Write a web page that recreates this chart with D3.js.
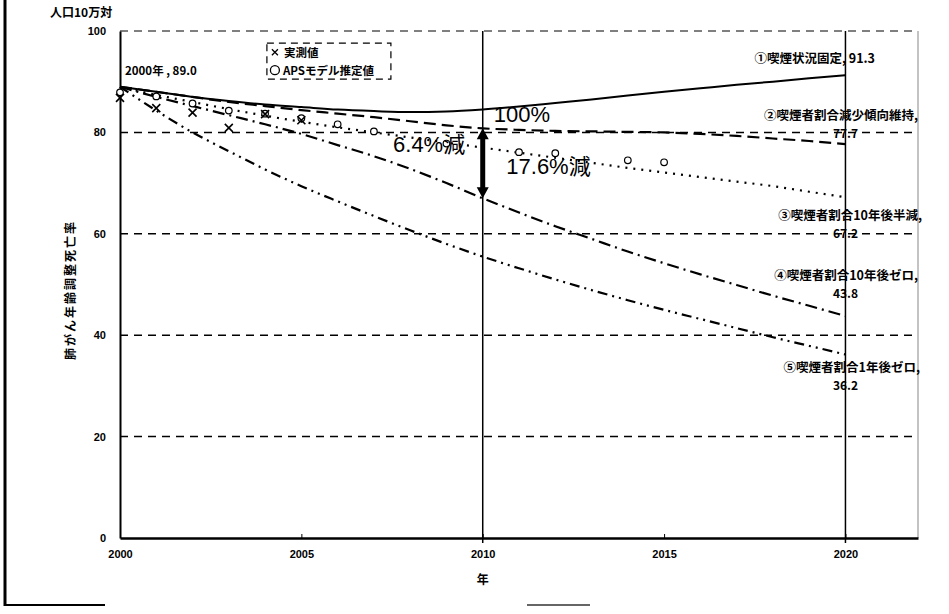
<!DOCTYPE html>
<html>
<head>
<meta charset="utf-8">
<script src="https://cdnjs.cloudflare.com/ajax/libs/d3/7.8.5/d3.min.js"></script>
<style>
  body { margin: 0; background: #fff; }
  text { font-family: "Noto Sans CJK JP", "Liberation Sans", sans-serif; fill: #000; }
  .tick text { font-family: "Liberation Sans", sans-serif; font-weight: bold; font-size: 11px; }
</style>
</head>
<body>
<div id="wrapper"></div>
<script>
// years and series (rate per 100,000)
const years = [2000, 2001, 2002, 2003, 2004, 2005, 2006, 2007, 2008, 2009, 2010,
  2011, 2012, 2013, 2014, 2015, 2016, 2017, 2018, 2019, 2020]
const fixedRate = [89.0, 88.0, 87.0, 86.2, 85.5, 85.0, 84.5, 84.2, 84.0, 84.1, 84.5,
  85.1, 85.8, 86.5, 87.3, 88.0, 88.7, 89.4, 90.0, 90.7, 91.3]
const trendKept = [89.0, 88.0, 87.0, 86.0, 85.2, 84.4, 83.7, 83.0, 82.2, 81.4, 80.8,
  80.5, 80.3, 80.2, 80.1, 80.0, 79.7, 79.3, 78.8, 78.3, 77.7]
const halfIn10 = [89.0, 87.4, 86.0, 84.6, 83.3, 82.1, 81.0, 80.0, 79.0, 78.0, 77.0,
  76.0, 75.0, 74.0, 73.0, 72.1, 71.2, 70.3, 69.4, 68.3, 67.2]
const zeroIn10 = [89.0, 87.0, 85.2, 83.4, 81.6, 79.7, 77.5, 75.3, 72.8, 70.0, 67.0,
  64.2, 61.5, 59.0, 56.5, 54.2, 52.0, 49.9, 47.8, 45.8, 43.8]
const zeroIn1 = [89.0, 84.3, 80.0, 76.3, 72.7, 69.4, 66.4, 63.5, 60.7, 58.0, 55.5,
  53.2, 51.0, 48.9, 46.9, 45.0, 43.2, 41.4, 39.6, 37.9, 36.2]

const actualYears = [2000, 2001, 2002, 2003, 2004, 2005]
const actualValues = [86.8, 84.8, 83.9, 80.9, 83.6, 82.4]
const apsYears = [2000, 2001, 2002, 2003, 2004, 2005, 2006, 2007, 2009, 2011, 2012, 2014, 2015]
const apsValues = [87.9, 87.1, 85.7, 84.3, 83.7, 82.8, 81.6, 80.2, 77.8, 76.1, 75.9, 74.5, 74.1]

const seriesLabels = ["①喫煙状況固定, 91.3", "②喫煙者割合減少傾向維持,", "③喫煙者割合10年後半減,",
  "④喫煙者割合10年後ゼロ,", "⑤喫煙者割合1年後ゼロ,"]
const endValueLabels = ["", "77.7", "67.2", "43.8", "36.2"]
const yTicks = [0, 20, 40, 60, 80, 100]
const xTicks = [2000, 2005, 2010, 2015, 2020]

const width = 949
const height = 614
let dimensions = {
  width: width,
  height: height,
  margin: { top: 31, right: 31, bottom: 76, left: 120 },
}
dimensions.boundedWidth = dimensions.width - dimensions.margin.left - dimensions.margin.right
dimensions.boundedHeight = dimensions.height - dimensions.margin.top - dimensions.margin.bottom

const wrapper = d3.select("#wrapper")
  .append("svg")
    .attr("width", dimensions.width)
    .attr("height", dimensions.height)

// scanned page frame bits
wrapper.append("line")
    .attr("x1", 5).attr("x2", 5).attr("y1", 0).attr("y2", 606)
    .attr("stroke", "#000").attr("stroke-width", 3)
wrapper.append("line")
    .attr("x1", 5).attr("x2", 105).attr("y1", 605).attr("y2", 605)
    .attr("stroke", "#000").attr("stroke-width", 2)
wrapper.append("line")
    .attr("x1", 527).attr("x2", 590).attr("y1", 605).attr("y2", 605)
    .attr("stroke", "#666").attr("stroke-width", 2)

const bounds = wrapper.append("g")
    .attr("transform", `translate(${dimensions.margin.left},${dimensions.margin.top})`)

const xScale = d3.scaleLinear()
  .domain([2000, 2022])
  .range([0, dimensions.boundedWidth])

const yScale = d3.scaleLinear()
  .domain([0, 100])
  .range([dimensions.boundedHeight, 0])

// dashed gridlines
bounds.append("g")
  .selectAll("line")
  .data(yTicks.filter(d => d > 0))
  .join("line")
    .attr("x1", 0)
    .attr("x2", dimensions.boundedWidth)
    .attr("y1", d => yScale(d))
    .attr("y2", d => yScale(d))
    .attr("stroke", "#000")
    .attr("stroke-width", d => d == 100 ? 1 : 1.5)
    .attr("stroke-dasharray", "8,6")

// right border
bounds.append("line")
    .attr("x1", dimensions.boundedWidth).attr("x2", dimensions.boundedWidth)
    .attr("y1", 0).attr("y2", dimensions.boundedHeight)
    .attr("stroke", "#888").attr("stroke-width", 1)

// vertical reference lines
bounds.append("g")
  .selectAll("line")
  .data([2010, 2020])
  .join("line")
    .attr("x1", d => xScale(d))
    .attr("x2", d => xScale(d))
    .attr("y1", 0)
    .attr("y2", dimensions.boundedHeight + 5)
    .attr("stroke", "#000")
    .attr("stroke-width", 1.5)

// axes
const xAxis = bounds.append("g")
    .attr("transform", `translate(0,${dimensions.boundedHeight})`)
    .call(d3.axisBottom(xScale).tickValues(xTicks).tickFormat(d3.format("d"))
      .tickSizeInner(-4).tickSizeOuter(0).tickPadding(12))
xAxis.select(".domain").attr("stroke-width", 2.5)

const yAxis = bounds.append("g")
    .call(d3.axisLeft(yScale).tickValues(yTicks).tickSize(0).tickPadding(14))
yAxis.select(".domain").attr("stroke-width", 2)

bounds.append("text")
    .attr("x", xScale(2010))
    .attr("y", dimensions.boundedHeight + 46)
    .attr("text-anchor", "middle")
    .style("font-size", "12px")
    .style("font-weight", "bold")
    .text("年")

wrapper.append("text")
    .attr("x", 50)
    .attr("y", 17)
    .style("font-size", "12px")
    .style("font-weight", "bold")
    .text("人口10万対")

wrapper.append("text")
    .attr("transform", "translate(72,290) rotate(-90)")
    .attr("text-anchor", "middle")
    .attr("dominant-baseline", "middle")
    .style("font-size", "12px")
    .style("font-weight", "bold")
    .style("letter-spacing", "2px")
    .text("肺がん年齢調整死亡率")

// lines
const seriesList = [
  { values: fixedRate, dash: null },
  { values: trendKept, dash: "12,6" },
  { values: halfIn10, dash: "2,6" },
  { values: zeroIn10, dash: "12,5,2,5" },
  { values: zeroIn1, dash: "10,5,2,5,2,5" },
]
const lineGenerator = d3.line()
  .x((d, i) => xScale(years[i]))
  .y(d => yScale(d))
  .curve(d3.curveMonotoneX)

bounds.append("g")
  .selectAll("path")
  .data(seriesList)
  .join("path")
    .attr("d", d => lineGenerator(d.values))
    .attr("fill", "none")
    .attr("stroke", "#000")
    .attr("stroke-width", (d, i) => i == 0 ? 2 : 2.2)
    .attr("stroke-dasharray", d => d.dash)

// markers
bounds.append("g")
  .selectAll("circle")
  .data(apsValues)
  .join("circle")
    .attr("cx", (d, i) => xScale(apsYears[i]))
    .attr("cy", d => yScale(d))
    .attr("r", 3.3)
    .attr("fill", "#fff")
    .attr("stroke", "#000")
    .attr("stroke-width", 1.2)

const crossSize = 4
bounds.append("g")
  .selectAll("path")
  .data(actualValues)
  .join("path")
    .attr("d", (d, i) => {
      const x = xScale(actualYears[i])
      const y = yScale(d)
      return `M${x - crossSize},${y - crossSize}L${x + crossSize},${y + crossSize}` +
        `M${x - crossSize},${y + crossSize}L${x + crossSize},${y - crossSize}`
    })
    .attr("stroke", "#000")
    .attr("stroke-width", 1.6)

// legend
const legend = bounds.append("g")
    .attr("transform", `translate(${xScale(2004.05)},${yScale(97.6)})`)
legend.append("rect")
    .attr("width", 124)
    .attr("height", 36)
    .attr("fill", "#fff")
    .attr("stroke", "#000")
    .attr("stroke-width", 1.2)
    .attr("stroke-dasharray", "7,5")
legend.append("path")
    .attr("d", "M5,6L11,12M5,12L11,6")
    .attr("stroke", "#000").attr("stroke-width", 1.3)
legend.append("text")
    .attr("x", 17).attr("y", 14)
    .style("font-size", "11.5px").style("font-weight", "bold")
    .text("実測値")
legend.append("circle")
    .attr("cx", 8).attr("cy", 27).attr("r", 4.5)
    .attr("fill", "#fff").attr("stroke", "#000").attr("stroke-width", 1.3)
legend.append("text")
    .attr("x", 16).attr("y", 32)
    .style("font-size", "11.5px").style("font-weight", "bold")
    .text("APSモデル推定値")

// start label
bounds.append("text")
    .attr("x", xScale(2000) + 5)
    .attr("y", yScale(fixedRate[0]) - 12)
    .style("font-size", "11.5px")
    .style("font-weight", "bold")
    .text("2000年 , 89.0")

// series end labels
const labelY = [58, 115, 215, 275, 367]
const labelEnd = [875, 918, 922, 918, 920]
seriesLabels.forEach((label, i) => {
  wrapper.append("text")
      .attr("x", labelEnd[i])
      .attr("y", labelY[i] + 5)
      .attr("text-anchor", "end")
      .style("font-size", "12.5px")
      .style("font-weight", "bold")
      .text(label)
  if (endValueLabels[i]) {
    wrapper.append("text")
        .attr("x", dimensions.margin.left + xScale(2020))
        .attr("y", labelY[i] + 23)
        .attr("text-anchor", "middle")
        .style("font-size", "12px")
        .style("font-weight", "bold")
        .text(endValueLabels[i])
  }
})

// percent annotations
const pctStyle = sel => sel
    .style("font-family", "'Liberation Sans', 'Noto Sans CJK JP', sans-serif")
    .style("font-size", "22px")
bounds.append("text")
    .attr("x", xScale(2010) + 11)
    .attr("y", yScale(fixedRate[10]) + 12)
    .call(pctStyle)
    .text("100%")
bounds.append("text")
    .attr("x", xScale(2007.5) + 1)
    .attr("y", yScale(trendKept[10]) + 24)
    .call(pctStyle)
    .text("6.4%減")
bounds.append("text")
    .attr("x", xScale(2010.65))
    .attr("y", yScale(zeroIn10[10]) - 24)
    .call(pctStyle)
    .text("17.6%減")

// double arrow at 2010
const ax = xScale(2010)
const aTop = yScale(trendKept[10])
const aBot = yScale(zeroIn10[10])
bounds.append("line")
    .attr("x1", ax).attr("x2", ax)
    .attr("y1", aTop + 8).attr("y2", aBot - 8)
    .attr("stroke", "#000").attr("stroke-width", 5)
bounds.append("path")
    .attr("d", `M${ax},${aTop}L${ax - 6},${aTop + 11}L${ax + 6},${aTop + 11}Z` +
      `M${ax},${aBot}L${ax - 6},${aBot - 11}L${ax + 6},${aBot - 11}Z`)
    .attr("fill", "#000")
</script>
</body>
</html>
